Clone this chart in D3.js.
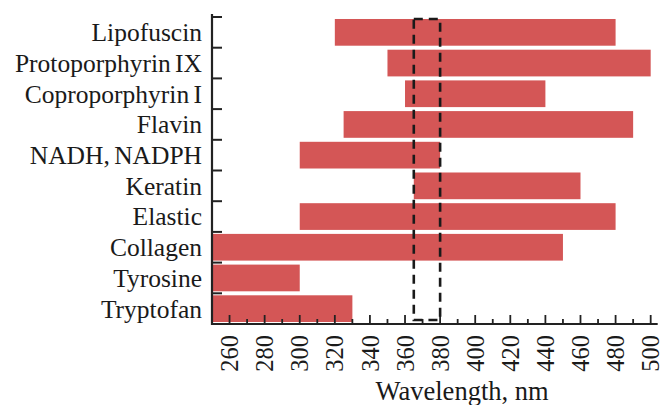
<!DOCTYPE html>
<html><head><meta charset="utf-8">
<script src="https://cdn.jsdelivr.net/npm/d3@7"></script>
<style>
html,body{margin:0;padding:0;background:#fff;}
text{font-family:"Liberation Serif","Times New Roman",serif;fill:#1a1a1a;}
</style></head>
<body>
<svg id="chart" width="660" height="405"></svg>
<script>
const categories = ["Lipofuscin","Protoporphyrin IX","Coproporphyrin I","Flavin","NADH, NADPH","Keratin","Elastic","Collagen","Tyrosine","Tryptofan"];
const rangeStart = [320,350,360,325,300,365,300,250,250,250];
const rangeEnd   = [480,500,440,490,380,460,480,450,300,330];
const majorTicks = [260,280,300,320,340,360,380,400,420,440,460,480,500];
const minorTicks = [270,290,310,330,350,370,390,410,430,450,470,490];
const excitationWindow = [365,380];
const xTitle = "Wavelength, nm";

(function(){
const svg = d3.select("#chart");
const pLeft = 212, pRight = 657.7, pTop = 17, pBottom = 324;
const x = d3.scaleLinear().domain([250,504]).range([pLeft,pRight]);
const y = d3.scaleBand().domain(categories).range([pTop,pBottom]).paddingInner(0.13).paddingOuter(0.065);
const step = y.step();
const barColor = "#d45656";
const axisColor = "#222";

// bars
svg.append("g").selectAll("rect").data(categories).join("rect")
  .attr("x",(d,i)=>x(rangeStart[i]))
  .attr("y",d=>y(d))
  .attr("width",(d,i)=>x(rangeEnd[i])-x(rangeStart[i]))
  .attr("height",y.bandwidth())
  .attr("fill",barColor);

// y axis
const ya = svg.append("g");
ya.append("line").attr("x1",pLeft).attr("x2",pLeft).attr("y1",pTop-3).attr("y2",pBottom+1)
  .attr("stroke",axisColor).attr("stroke-width",2.2);
ya.selectAll("line.t").data(categories).join("line").attr("class","t")
  .attr("x1",pLeft).attr("x2",pLeft+10)
  .attr("y1",(d,i)=>pTop+i*step).attr("y2",(d,i)=>pTop+i*step)
  .attr("stroke",axisColor).attr("stroke-width",2);
ya.selectAll("text").data(categories).join("text")
  .attr("x",pLeft-10).attr("y",d=>y(d)+y.bandwidth()/2)
  .attr("dy","0.35em").attr("text-anchor","end")
  .attr("font-size",25.5).attr("word-spacing",-2)
  .text(d=>d);

// x axis
const xa = svg.append("g");
xa.append("line").attr("x1",pLeft-1).attr("x2",pRight).attr("y1",pBottom).attr("y2",pBottom)
  .attr("stroke",axisColor).attr("stroke-width",2.2);
xa.selectAll("line.maj").data(majorTicks).join("line").attr("class","maj")
  .attr("x1",d=>x(d)).attr("x2",d=>x(d)).attr("y1",pBottom).attr("y2",pBottom-9)
  .attr("stroke",axisColor).attr("stroke-width",1.8);
xa.selectAll("line.min").data(minorTicks).join("line").attr("class","min")
  .attr("x1",d=>x(d)).attr("x2",d=>x(d)).attr("y1",pBottom).attr("y2",pBottom-5)
  .attr("stroke",axisColor).attr("stroke-width",1.8);
xa.selectAll("text").data(majorTicks).join("text")
  .attr("transform",d=>`translate(${x(d)},${pBottom+11}) rotate(-90)`)
  .attr("text-anchor","end").attr("dy","0.35em")
  .attr("font-size",24.5)
  .text(d=>d);
svg.append("text").attr("x",(x(260)+x(500))/2+22).attr("y",400)
  .attr("text-anchor","middle").attr("font-size",26.5).text(xTitle);

// excitation window (dashed)
svg.append("rect")
  .attr("x",x(excitationWindow[0])).attr("width",x(excitationWindow[1])-x(excitationWindow[0]))
  .attr("y",y(categories[0])).attr("height",pBottom-4-y(categories[0]))
  .attr("fill","none").attr("stroke","#1a1a1a").attr("stroke-width",2.6)
  .attr("stroke-dasharray","9,6");
})();
</script>
</body></html>
